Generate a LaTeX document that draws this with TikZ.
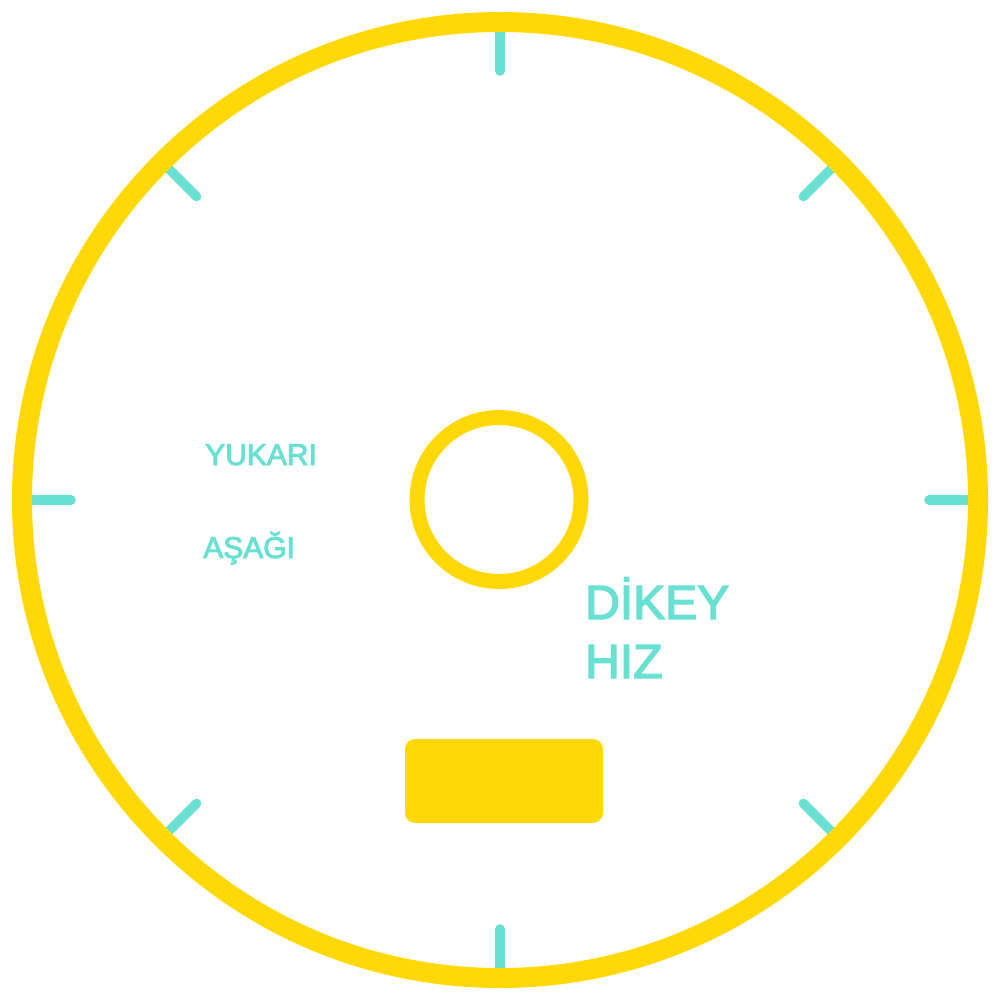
\documentclass[tikz,border=0pt]{standalone}
\usepackage{fontspec}
\usetikzlibrary{calc}
\setmainfont{Liberation Sans}
\newfontfamily\lblfont[RawFeature={embolden=3}]{Liberation Sans}
\definecolor{gold}{RGB}{255,216,5}
\definecolor{turq}{RGB}{104,224,210}
\begin{document}
\begin{tikzpicture}[x=1pt,y=-1pt,
  tickline/.style={draw=turq,line width=9.5pt,line cap=round},
  ring/.style={draw=gold},
  lbl/.style={text=turq,anchor=base west,inner sep=0pt,font=\lblfont\fontsize{30}{36}\selectfont},
  biglbl/.style={text=turq,anchor=base west,inner sep=0pt,font=\lblfont\fontsize{48}{59}\selectfont}]
\useasboundingbox[fill=white] (0,0) rectangle (1000,1000);
\coordinate (c) at (500,500);
\foreach \a in {0,45,...,315}{
  \draw[tickline] ($(c)+(\a:478)$) -- ($(c)+(\a:429)$);
}
\draw[ring,line width=20pt] (c) circle[radius=478];
\draw[ring,line width=15pt] (499,499.5) circle[radius=82];
\node[fill=gold,rounded corners=10pt,minimum width=198pt,minimum height=84pt,inner sep=0pt] (box) at (504,781) {};
\node[lbl] (up) at (205,465) {YUKARI};
\node[lbl] (down) at (203,558) {AŞAĞI};
\node[biglbl] (dikey) at (585,619) {DİKEY};
\node[biglbl] (hiz) at (585,678) {HIZ};
\end{tikzpicture}
\end{document}
